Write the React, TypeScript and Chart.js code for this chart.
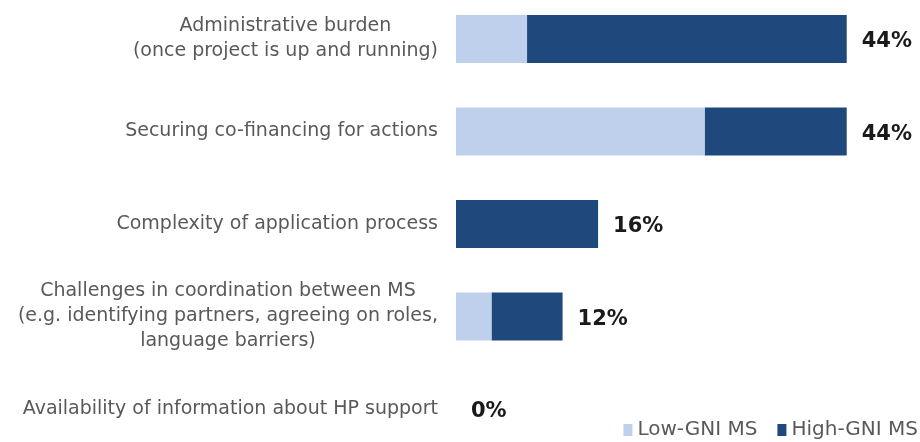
import React, { useEffect, useRef } from "react";
import { Chart, registerables } from "chart.js";

Chart.register(...registerables);

const categories: string[][] = [
  ["Administrative burden", "(once project is up and running)"],
  ["Securing co-financing for actions"],
  ["Complexity of application process"],
  [
    "Challenges in coordination between MS",
    "(e.g. identifying partners, agreeing on roles,",
    "language barriers)",
  ],
  ["Availability of information about HP support"],
];
const lowGni = [8, 28, 0, 4, 0];
const highGni = [36, 16, 16, 8, 0];
const seriesNames = ["Low-GNI MS", "High-GNI MS"];
const seriesColors = ["#BED0EB", "#1F497D"];

const FONT = "'DejaVu Sans', Verdana, sans-serif";

const labelPlugin = {
  id: "customLabels",
  afterDraw(chart: any) {
    const ctx: CanvasRenderingContext2D = chart.ctx;
    const ys = chart.scales.y;
    const xs = chart.scales.x;
    const area = chart.chartArea;
    ctx.save();
    // category labels
    ctx.font = `19px ${FONT}`;
    ctx.fillStyle = "#595959";
    ctx.textAlign = "center";
    ctx.textBaseline = "middle";
    categories.forEach((lines, i) => {
      const cy = ys.getPixelForValue(i);
      const w = Math.max(...lines.map((l) => ctx.measureText(l).width));
      const cx = area.left - 18 - w / 2;
      lines.forEach((l, j) => {
        ctx.fillText(l, cx, cy + (j - (lines.length - 1) / 2) * 25);
      });
    });
    // totals
    ctx.font = `bold 21px ${FONT}`;
    ctx.fillStyle = "#1a1a1a";
    ctx.textAlign = "left";
    categories.forEach((_, i) => {
      const total = lowGni[i] + highGni[i];
      ctx.fillText(
        `${total}%`,
        xs.getPixelForValue(total) + 15,
        ys.getPixelForValue(i) + 3
      );
    });
    // legend (right aligned at bottom)
    ctx.font = `20px ${FONT}`;
    ctx.textAlign = "left";
    const ly = 430;
    let right = chart.width - 2;
    const items = chart.data.datasets.map((d: any) => ({
      label: d.label,
      color: d.backgroundColor,
    }));
    for (let k = items.length - 1; k >= 0; k--) {
      const it = items[k];
      const tw = ctx.measureText(it.label).width;
      const tx = right - tw;
      ctx.fillStyle = "#595959";
      ctx.fillText(it.label, tx, ly);
      ctx.fillStyle = it.color;
      ctx.fillRect(tx - 14, ly - 6, 9, 12);
      right = tx - 14 - 20;
    }
    ctx.restore();
  },
};

export default function App() {
  const ref = useRef<HTMLCanvasElement | null>(null);
  useEffect(() => {
    if (!ref.current) return;
    const chart = new Chart(ref.current, {
      type: "bar",
      data: {
        labels: categories.map((c) => c.join(" ")),
        datasets: [
          {
            label: seriesNames[0],
            data: lowGni,
            backgroundColor: seriesColors[0],
            borderWidth: 0,
            inflateAmount: 0,
            barThickness: 48,
            clip: false as any,
          } as any,
          {
            label: seriesNames[1],
            data: highGni,
            backgroundColor: seriesColors[1],
            borderWidth: 0,
            inflateAmount: 0,
            barThickness: 48,
            clip: false as any,
          } as any,
        ],
      },
      options: {
        indexAxis: "y",
        responsive: false,
        animation: false,
        layout: { padding: { left: 456, right: 20, top: 39, bottom: 33 } },
        plugins: {
          legend: { display: false },
          tooltip: { enabled: false },
        },
        scales: {
          x: { display: false, stacked: true, min: 0, max: 50 },
          y: { display: false, stacked: true, offset: false },
        },
      },
      plugins: [labelPlugin],
    });
    return () => chart.destroy();
  }, []);
  return (
    <div style={{ position: "absolute", left: 0, top: 0, width: 920, height: 442, background: "#fff" }}>
      <canvas ref={ref} width={920} height={442} style={{ display: "block" }} />
    </div>
  );
}
